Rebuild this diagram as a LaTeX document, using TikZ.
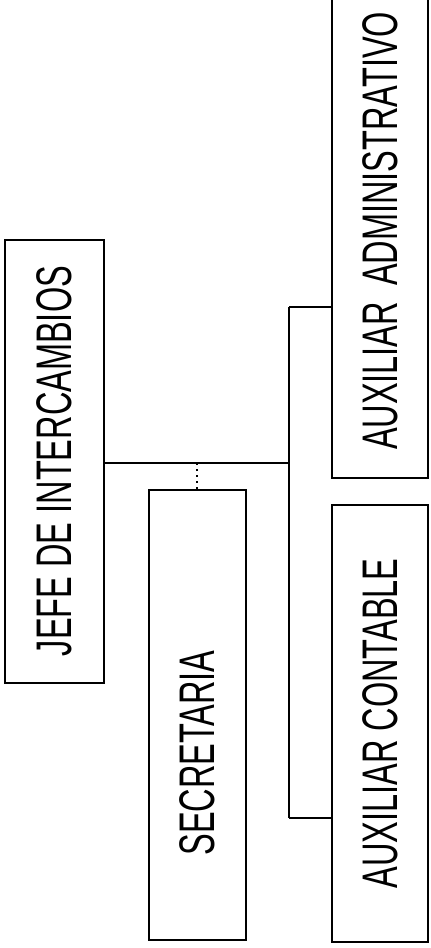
\documentclass[tikz,border=0pt]{standalone}
\usepackage{fontspec}
\setmainfont{Liberation Sans}[FakeStretch=0.65]
\begin{document}
\begin{tikzpicture}[x=0.5pt, y=-0.5pt, line width=1pt,
    cargo/.style={draw, rectangle, rotate=90, inner sep=0pt, minimum height=48.5pt,
      font=\fontsize{25}{29}\selectfont}]
  \useasboundingbox (0,0) rectangle (430,948);
  % Boxes turned on their side, text reads bottom to top
  \node[cargo, minimum width=221.5pt, minimum height=49.5pt] (jefe) at (54.5,461) {JEFE DE INTERCAMBIOS};
  \node[cargo, minimum width=225pt] (secretaria) at (197,715) {SECRETARIA\hspace*{38pt}};
  \node[cargo, minimum width=247pt, minimum height=48pt] (admin) at (380,231) {AUXILIAR\hspace{8pt}ADMINISTRATIVO};
  \node[cargo, minimum width=218.5pt, minimum height=48pt] (contable) at (380,723.5) {AUXILIAR CONTABLE};

  % Branch points
  \coordinate (bus) at (289,463);
  \coordinate (top) at (289,307);
  \coordinate (bottom) at (289,818);

  % Connectors
  \draw (jefe.south |- bus) -- (bus);
  \draw (top) -- (bottom);
  \draw (top) -- (admin.north |- top);
  \draw (bottom) -- (contable.north |- bottom);
  \draw[dotted] (secretaria.east) -- (secretaria.east |- bus);
\end{tikzpicture}
\end{document}
